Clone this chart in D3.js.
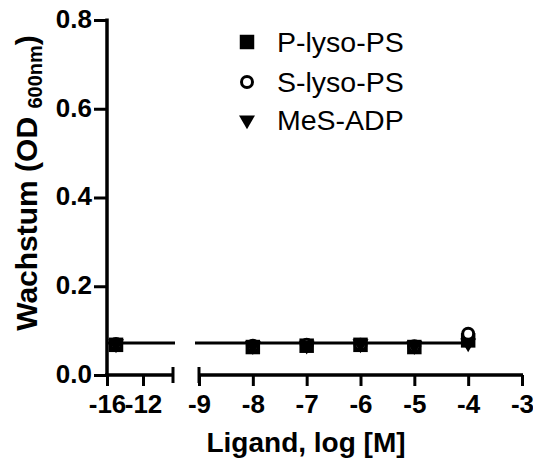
<!DOCTYPE html>
<html>
<head>
<meta charset="utf-8">
<script src="https://cdn.jsdelivr.net/npm/d3@7"></script>
<style>
  body { margin: 0; background: #fff; }
  svg { display: block; font-family: Arial, "Liberation Sans", sans-serif; }
</style>
</head>
<body>
<svg id="chart" width="533" height="464"></svg>
<script>
// data
const doses = [-15, -8, -7, -6, -5, -4];   // log [M], -15 is the no-ligand control
const pLyso = [0.068, 0.063, 0.066, 0.068, 0.063, 0.078];
const sLyso = [0.070, 0.066, 0.068, 0.068, 0.065, 0.093];
const mesAdp = [0.070, 0.066, 0.067, 0.070, 0.066, 0.072];
const fitValue = 0.072;
const seriesNames = ["P-lyso-PS", "S-lyso-PS", "MeS-ADP"];
const yTicks = [0, 0.2, 0.4, 0.6, 0.8];
const xTicksLeft = [-16, -12];
const xTicksRight = [-9, -8, -7, -6, -5, -4, -3];

const svg = d3.select("#chart");

const y = d3.scaleLinear().domain([0, 0.8]).range([375, 20]);
// broken x axis: two pieces
const xLeft = d3.scaleLinear().domain([-16, -12]).range([107, 143]);
const xLeftEnd = 173;
const xRight = d3.scaleLinear().domain([-9, -3]).range([199, 522]);
const xOf = d => d < -9 ? xLeft(d) : xRight(d);

const axisW = 3.5;
const hyphen = d => String(d);   // plain hyphen, not the unicode minus

// y axis
const yAxis = svg.append("g")
    .attr("transform", "translate(107,0)")
    .call(d3.axisLeft(y).tickValues(yTicks).tickFormat(d3.format(".1f")).tickSize(13).tickPadding(2));
yAxis.select(".domain").remove();
yAxis.append("line").attr("x1", 0).attr("x2", 0).attr("y1", y(0.8) - 1.5).attr("y2", y(0) + 2)
    .attr("stroke", "#000").attr("stroke-width", axisW);
yAxis.selectAll(".tick line").attr("stroke-width", 3);
yAxis.selectAll(".tick text").attr("font-size", 26).attr("font-weight", "bold").attr("fill", "#000")
    .attr("dy", "0.28em");

// x axis, left piece
const xa1 = svg.append("g")
    .attr("transform", "translate(0,375)")
    .call(d3.axisBottom(xLeft).tickValues(xTicksLeft).tickFormat(hyphen).tickSize(11).tickPadding(9));
xa1.select(".domain").remove();
xa1.append("line").attr("x1", 105).attr("x2", xLeftEnd).attr("y1", 0).attr("y2", 0)
    .attr("stroke", "#000").attr("stroke-width", axisW);
xa1.append("line").attr("x1", xLeftEnd).attr("x2", xLeftEnd).attr("y1", -8).attr("y2", 8)
    .attr("stroke", "#000").attr("stroke-width", 3);

// x axis, right piece
const xa2 = svg.append("g")
    .attr("transform", "translate(0,375)")
    .call(d3.axisBottom(xRight).tickValues(xTicksRight).tickFormat(hyphen).tickSize(11).tickPadding(9));
xa2.select(".domain").remove();
xa2.append("line").attr("x1", xRight(-9)).attr("x2", xRight(-3) + 1).attr("y1", 0).attr("y2", 0)
    .attr("stroke", "#000").attr("stroke-width", axisW);
xa2.append("line").attr("x1", xRight(-9)).attr("x2", xRight(-9)).attr("y1", -8).attr("y2", 8)
    .attr("stroke", "#000").attr("stroke-width", 3);

[xa1, xa2].forEach(g => {
  g.selectAll(".tick line").attr("stroke-width", 3);
  g.selectAll(".tick text").attr("font-size", 26).attr("font-weight", "bold").attr("fill", "#000");
});

// fitted line (broken at the axis gap)
const fy = y(fitValue);
svg.append("line").attr("x1", xLeft(-16)).attr("x2", xLeftEnd + 2).attr("y1", fy).attr("y2", fy)
    .attr("stroke", "#000").attr("stroke-width", 3);
svg.append("line").attr("x1", xRight(-9) - 4).attr("x2", xRight(-4)).attr("y1", fy).attr("y2", fy)
    .attr("stroke", "#000").attr("stroke-width", 3);

// markers
const sq = d3.symbol().type(d3.symbolSquare).size(210);
const tri = d3.symbol().type(d3.symbolTriangle).size(110);

svg.selectAll(".sq").data(doses.map((d, i) => [d, pLyso[i]])).enter()
  .append("path").attr("d", sq)
  .attr("transform", d => `translate(${xOf(d[0])},${y(d[1])})`)
  .attr("fill", "#000");

svg.selectAll(".ci").data(doses.map((d, i) => [d, sLyso[i]])).enter()
  .append("circle").attr("r", 5.5)
  .attr("cx", d => xOf(d[0])).attr("cy", d => y(d[1]))
  .attr("fill", "#fff").attr("stroke", "#000").attr("stroke-width", 3);

svg.selectAll(".tr").data(doses.map((d, i) => [d, mesAdp[i]])).enter()
  .append("path").attr("d", tri)
  .attr("transform", d => `translate(${xOf(d[0])},${y(d[1])}) rotate(180)`)
  .attr("fill", "#000");

// legend
const leg = svg.append("g");
const legY = [42, 82, 120];
leg.append("path").attr("d", sq).attr("transform", `translate(247,${legY[0]})`).attr("fill", "#000");
leg.append("circle").attr("cx", 247).attr("cy", legY[1]).attr("r", 5.5)
    .attr("fill", "#fff").attr("stroke", "#000").attr("stroke-width", 3);
leg.append("path").attr("d", tri).attr("transform", `translate(247,${legY[2]}) rotate(180)`).attr("fill", "#000");
seriesNames.forEach((name, i) => {
  leg.append("text").attr("x", 277).attr("y", legY[i] + 10)
     .attr("font-size", 28.5).text(name);
});

// axis titles
svg.append("text").attr("x", 306).attr("y", 452).attr("text-anchor", "middle")
    .attr("font-size", 28).attr("font-weight", "bold").text("Ligand, log [M]");

const yt = svg.append("text")
    .attr("transform", "translate(37,183) rotate(-90)")
    .attr("text-anchor", "middle")
    .attr("font-size", 30).attr("font-weight", "bold");
yt.append("tspan").text("Wachstum (OD ");
yt.append("tspan").attr("font-size", 20).attr("dy", 5).text("600nm");
yt.append("tspan").attr("dy", -5).text(")");
</script>
</body>
</html>
